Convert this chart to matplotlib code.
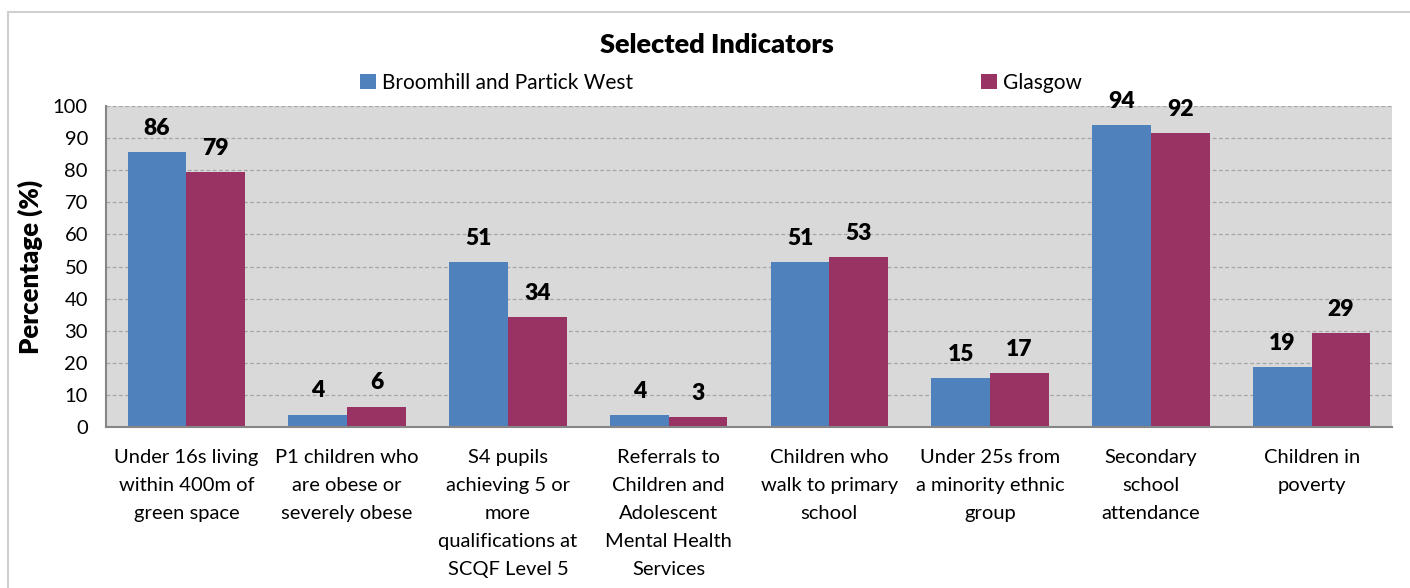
import matplotlib
matplotlib.use("Agg")
import matplotlib.pyplot as plt
from matplotlib.patches import Rectangle
import numpy as np

plt.rcParams['font.family'] = ['Lato', 'DejaVu Sans']

categories = [
    "Under 16s living\nwithin 400m of\ngreen space",
    "P1 children who\nare obese or\nseverely obese",
    "S4 pupils\nachieving 5 or\nmore\nqualifications at\nSCQF Level 5",
    "Referrals to\nChildren and\nAdolescent\nMental Health\nServices",
    "Children who\nwalk to primary\nschool",
    "Under 25s from\na minority ethnic\ngroup",
    "Secondary\nschool\nattendance",
    "Children in\npoverty",
]
series_names = ["Broomhill and Partick West", "Glasgow"]
broomhill = [85.7, 3.8, 51.4, 3.6, 51.4, 15.3, 94.1, 18.7]
glasgow = [79.4, 6.3, 34.3, 3.1, 53.0, 16.8, 91.6, 29.2]
yticks = list(range(0, 101, 10))

c_blue = "#4F81BD"
c_mag = "#983363"
BOLD = 800

fig = plt.figure(figsize=(14.1, 5.88), dpi=100)
ax = fig.add_axes([106/1410, 1-427/588, (1392-106)/1410, (427-106)/588])
ax.set_facecolor("#D9D9D9")

x = np.arange(len(categories))
w = 0.365
b1 = ax.bar(x - w/2, broomhill, w, color=c_blue, label=series_names[0], zorder=3)
b2 = ax.bar(x + w/2, glasgow, w, color=c_mag, label=series_names[1], zorder=3)

for bars, vals in ((b1, broomhill), (b2, glasgow)):
    for r, v in zip(bars, vals):
        ax.annotate(f"{round(v):d}", (r.get_x() + r.get_width()/2, v),
                    xytext=(0, 12.5), textcoords="offset points",
                    ha="center", va="baseline", fontsize=16.5, fontweight=BOLD,
                    zorder=4)

ax.set_xlim(-0.5, len(categories) - 0.5)
ax.set_ylim(0, 100)
ax.set_yticks(yticks)
ax.set_yticklabels([str(t) for t in yticks], fontsize=14.5)
ax.set_xticks(x)
ax.set_xticklabels(categories, fontsize=14.5, linespacing=1.78, va="top")
ax.tick_params(axis="both", length=0)
ax.tick_params(axis="x", pad=16)
ax.tick_params(axis="y", pad=13)
ax.yaxis.grid(True, linestyle=(0, (3, 2)), color="#A6A6A6", linewidth=0.9, zorder=1)
for s in ("top", "right"):
    ax.spines[s].set_visible(False)
for s in ("left", "bottom"):
    ax.spines[s].set_color("#868686")
    ax.spines[s].set_linewidth(1.5)
    ax.spines[s].set_zorder(5)

ax.set_ylabel("Percentage (%)", fontsize=18.5, fontweight=BOLD, labelpad=7)

fig.text(717/1410, 1-45/588, "Selected Indicators", ha="center", va="center",
         fontsize=19.5, fontweight=BOLD)

leg_kw = dict(loc="center left", frameon=False, fontsize=15, handlelength=0.75,
              handleheight=0.75, handletextpad=0.3, borderpad=0, borderaxespad=0)
fig.legend(handles=[b1], bbox_to_anchor=(360/1410, 1-83/588), **leg_kw)
fig.legend(handles=[b2], bbox_to_anchor=(981/1410, 1-83/588), **leg_kw)

fig.patches.append(Rectangle((8/1410, -0.05), 1.1, 1.05 - 12/588,
                             transform=fig.transFigure, fill=False,
                             edgecolor="#D0D0D0", linewidth=1.5))

fig.savefig("out.png", dpi=100)
